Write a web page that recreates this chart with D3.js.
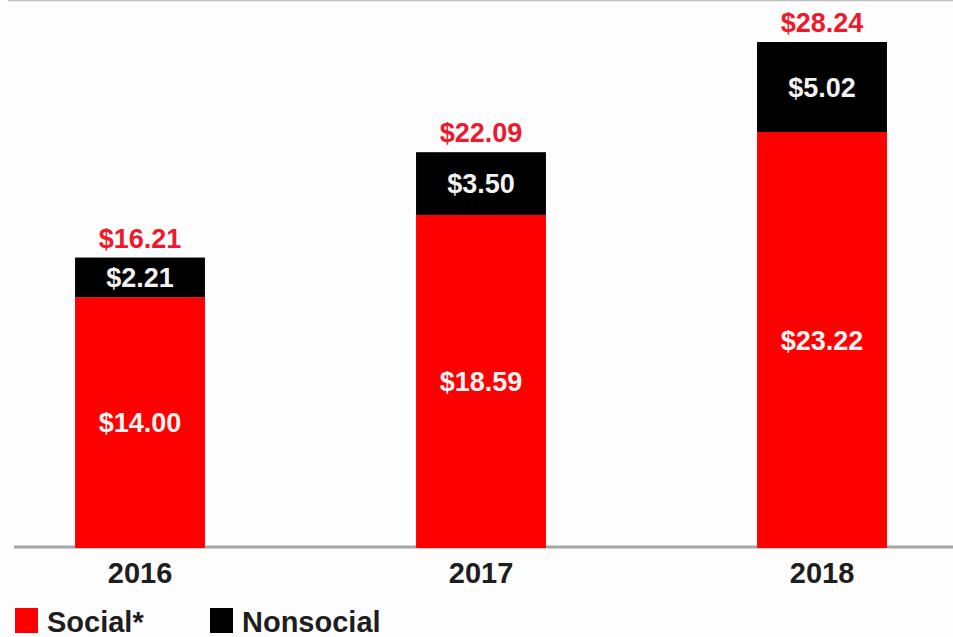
<!DOCTYPE html>
<html>
<head>
<meta charset="utf-8">
<script src="https://cdn.jsdelivr.net/npm/d3@7/dist/d3.min.js"></script>
<style>
  html, body { margin: 0; padding: 0; background: #fdfdfd; }
  svg { display: block; }
  text { font-family: "Liberation Sans", Arial, Helvetica, sans-serif; font-weight: bold; }
</style>
</head>
<body>
<svg id="chart" width="953" height="637"></svg>
<script>
// Spending by year, in billions
const years = ["2016", "2017", "2018"];
const social = [14.00, 18.59, 23.22];
const nonsocial = [2.21, 3.50, 5.02];
const totals = [16.21, 22.09, 28.24];
const seriesNames = ["Social*", "Nonsocial"];
const seriesColors = ["#ff0000", "#000000"];

const svg = d3.select("#chart");
const W = 953;

const x = d3.scaleBand()
  .domain(years)
  .range([-30.5, 992.5])
  .paddingInner(0.619)
  .paddingOuter(0.3095);

const y = d3.scaleLinear()
  .domain([0, 28.24])
  .range([548, 42]);

const fmt = v => "$" + v.toFixed(2);

// thin rule along the top
svg.append("line")
  .attr("x1", 8).attr("x2", W)
  .attr("y1", 0.5).attr("y2", 0.5)
  .attr("stroke", "#bdbdbd").attr("stroke-width", 1.5);

// baseline
svg.append("line")
  .attr("x1", 14).attr("x2", W)
  .attr("y1", y(0) - 1).attr("y2", y(0) - 1)
  .attr("stroke", "#a6a6a6").attr("stroke-width", 3);

const rows = years.map((yr, i) => ({ year: yr, social: social[i], nonsocial: nonsocial[i], total: totals[i] }));
const stack = d3.stack().keys(["social", "nonsocial"])(rows);

const layers = svg.append("g").selectAll("g")
  .data(stack)
  .join("g")
  .attr("fill", (d, i) => seriesColors[i]);

layers.selectAll("rect")
  .data(d => d)
  .join("rect")
  .attr("x", d => x(d.data.year))
  .attr("width", x.bandwidth())
  .attr("y", d => y(d[1]))
  .attr("height", d => y(d[0]) - y(d[1]));

// segment value labels
layers.each(function(layer, li) {
  d3.select(this).selectAll("text")
    .data(layer)
    .join("text")
    .attr("x", d => x(d.data.year) + x.bandwidth() / 2)
    .attr("y", d => (y(d[0]) + y(d[1])) / 2)
    .attr("dy", "0.36em")
    .attr("text-anchor", "middle")
    .attr("fill", li === 0 ? "#fff4f2" : "#f2f2f2")
    .style("font-size", "27px")
    .text(d => fmt(d[1] - d[0]));
});

// totals above each bar
svg.append("g").selectAll("text")
  .data(rows)
  .join("text")
  .attr("x", d => x(d.year) + x.bandwidth() / 2)
  .attr("y", d => y(d.total) - 10)
  .attr("text-anchor", "middle")
  .attr("fill", "#f2182c")
  .style("font-size", "27px")
  .text(d => fmt(d.total));

// year axis
const axis = svg.append("g")
  .attr("transform", `translate(0,${y(0)})`)
  .call(d3.axisBottom(x).tickSize(0).tickPadding(14));
axis.select(".domain").remove();
axis.selectAll("text")
  .attr("fill", "#1e1e1e")
  .style("font-size", "29px")
  .style("font-family", "'Liberation Sans', Arial, sans-serif")
  .style("font-weight", "bold");

// legend
const legendX = [15, 210];
const legend = svg.append("g").selectAll("g")
  .data(seriesNames)
  .join("g")
  .attr("transform", (d, i) => `translate(${legendX[i]},608)`);
legend.append("rect")
  .attr("width", 23).attr("height", 25)
  .attr("fill", (d, i) => seriesColors[i]);
legend.append("text")
  .attr("x", 32).attr("y", 24)
  .attr("fill", "#1e1e1e")
  .style("font-size", "29px")
  .text(d => d);
</script>
</body>
</html>
